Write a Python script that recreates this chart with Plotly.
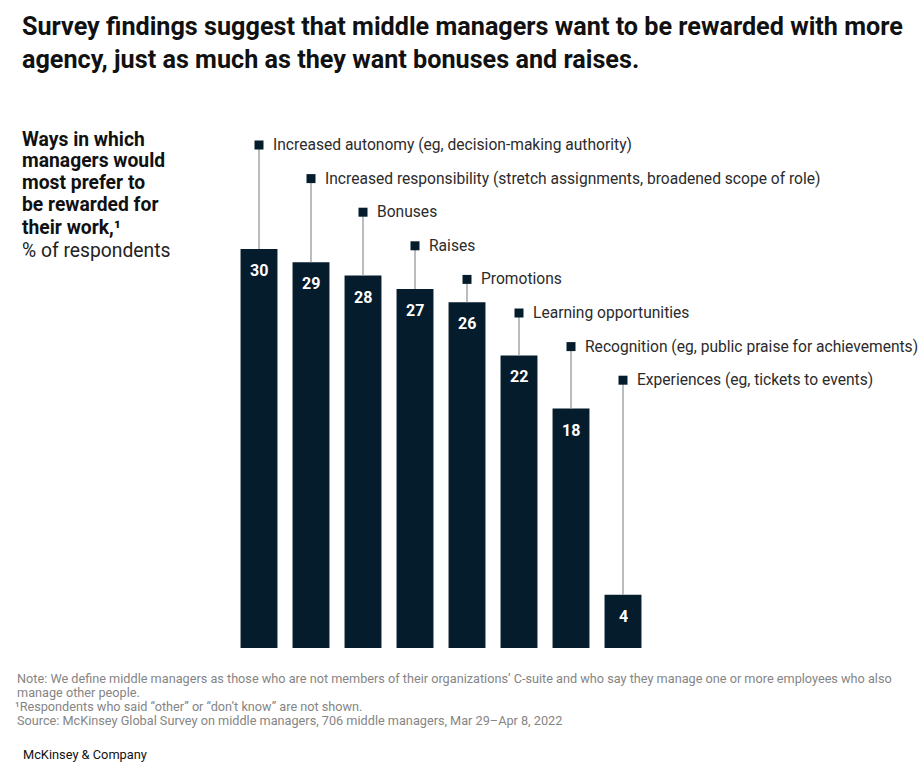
import plotly.graph_objects as go

categories = [
    "Increased autonomy (eg, decision-making authority)",
    "Increased responsibility (stretch assignments, broadened scope of role)",
    "Bonuses",
    "Raises",
    "Promotions",
    "Learning opportunities",
    "Recognition (eg, public praise for achievements)",
    "Experiences (eg, tickets to events)",
]
values = [30, 29, 28, 27, 26, 22, 18, 4]

subtitle_lines = ["Ways in which", "managers would", "most prefer to", "be rewarded for", "their work,\u00b9"]
unit_label = "% of respondents"

NAVY = "#051C2C"
GRAY_LINE = "#a3a7ab"
W, H = 919, 772
L, R, T, B = 233, 270, 100, 124
PW, PH = W - L - R, H - T - B
PX_PER_UNIT = 13.3
YMAX = PH / PX_PER_UNIT

label_top_px = 145
label_step_px = 33.6
label_y = [(H - B - (label_top_px + i * label_step_px)) / PX_PER_UNIT for i in range(len(categories))]
xs = list(range(len(categories)))

def px2x(px):
    return (px - L) / PW

def py2y(py):
    return (H - B - py) / PH

fig = go.Figure()

lx, ly = [], []
for i, v in enumerate(values):
    lx += [i, i, None]
    ly += [v, label_y[i], None]
fig.add_trace(go.Scatter(x=lx, y=ly, mode="lines", line=dict(color=GRAY_LINE, width=1.5),
                         hoverinfo="skip", showlegend=False))

fig.add_trace(go.Bar(x=xs, y=values, marker=dict(color=NAVY, line=dict(width=0)),
                     width=0.71, showlegend=False, hoverinfo="skip"))

fig.add_trace(go.Scatter(x=xs, y=label_y, mode="markers",
                         marker=dict(symbol="square", size=9, color=NAVY),
                         hoverinfo="skip", showlegend=False))

ann = []
for i, (c, v) in enumerate(zip(categories, values)):
    ann.append(dict(x=i, y=label_y[i], xref="x", yref="y", text=c, showarrow=False,
                    xanchor="left", yanchor="middle", xshift=12,
                    font=dict(family="Roboto", size=15.6, color="#2b2b2b")))
    ann.append(dict(x=i, y=v, xref="x", yref="y", text=str(v), showarrow=False,
                    xanchor="center", yanchor="top", yshift=-10,
                    font=dict(family="Roboto", size=16, color="white", weight="bold")))

ann.append(dict(x=px2x(20), y=py2y(10), xref="paper", yref="paper", xanchor="left", yanchor="top",
                align="left", showarrow=False,
                text="Survey findings suggest that middle managers want to be rewarded with more<br>agency, just as much as they want bonuses and raises.",
                font=dict(family="Roboto", size=25.2, color="#111111", weight="bold")))

for k, line in enumerate(subtitle_lines):
    ann.append(dict(x=px2x(20), y=py2y(139 + 22 * k), xref="paper", yref="paper", xanchor="left",
                    yanchor="middle", align="left", showarrow=False, text=line,
                    font=dict(family="Roboto", size=19.3, color="#111111", weight="bold")))
ann.append(dict(x=px2x(20), y=py2y(250), xref="paper", yref="paper", xanchor="left",
                yanchor="middle", align="left", showarrow=False, text=unit_label,
                font=dict(family="Roboto", size=19.3, color="#222222")))

foot = [
    (15, 678, "Note: We define middle managers as those who are not members of their organizations\u2019 C-suite and who say they manage one or more employees who also"),
    (15, 692, "manage other people."),
    (13, 706, "\u00b9Respondents who said \u201cother\u201d or \u201cdon\u2019t know\u201d are not shown."),
    (15, 720, "Source: McKinsey Global Survey on middle managers, 706 middle managers, Mar 29\u2013Apr 8, 2022"),
]
for x, y, t in foot:
    ann.append(dict(x=px2x(x), y=py2y(y), xref="paper", yref="paper", xanchor="left", yanchor="middle",
                    showarrow=False, text=t,
                    font=dict(family="Roboto", size=12.7, color="#858585")))
ann.append(dict(x=px2x(21), y=py2y(754), xref="paper", yref="paper", xanchor="left", yanchor="middle",
                showarrow=False, text="McKinsey & Company",
                font=dict(family="Roboto", size=12.8, color="#111111")))

fig.update_layout(
    width=W, height=H,
    margin=dict(l=L, r=R, t=T, b=B, pad=0),
    paper_bgcolor="white", plot_bgcolor="white",
    xaxis=dict(range=[-0.5, len(categories) - 0.5], visible=False, fixedrange=True),
    yaxis=dict(range=[0, YMAX], visible=False, fixedrange=True),
    annotations=ann,
    bargap=0.29,
)

fig.write_html("out.html", config={"displayModeBar": False},
               post_script="document.body.style.margin='0px';document.body.style.overflow='hidden';")
